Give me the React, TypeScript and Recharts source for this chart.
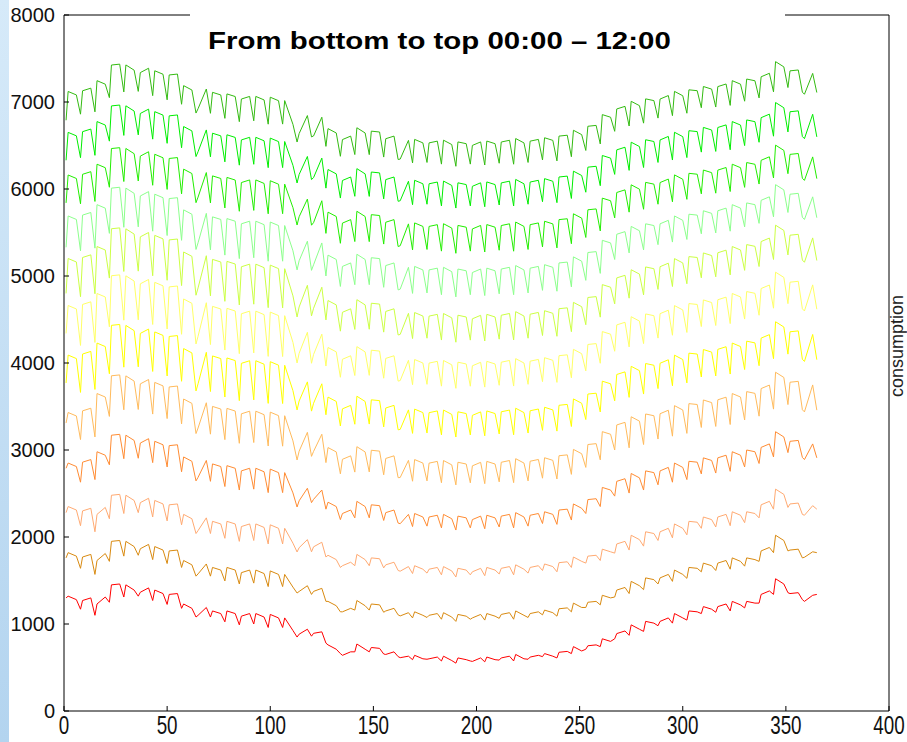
import React from 'react';
import { LineChart, Line, XAxis, YAxis } from 'recharts';

// day of year (Mon, Fri, Sun of each week)
const days = [1,
2,6,8, 9,13,15, 16,20,22, 23,27,29, 30,34,36, 37,41,43, 44,48,50, 51,55,57, 58,62,64, 65,69,71,
72,76,78, 79,83,85, 86,90,92, 93,97,99, 100,104,106, 107,111,113, 114,118,120, 121,125,127, 128,132,134,
135,139,141, 142,146,148, 149,153,155, 156,160,162, 163,167,169, 170,174,176, 177,181,183, 184,188,190,
191,195,197, 198,202,204, 205,209,211, 212,216,218, 219,223,225, 226,230,232, 233,237,239, 240,244,246,
247,251,253, 254,258,260, 261,265,267, 268,272,274, 275,279,281, 282,286,288, 289,293,295, 296,300,302,
303,307,309, 310,314,316, 317,321,323, 324,328,330, 331,335,337, 338,342,344, 345,349,351, 352,356,358,
359,363,365];

const h00 = [1300,
1320,1280,1170, 1270,1300,1100, 1230,1310,1250, 1450,1460,1310, 1450,1390,1320, 1365,1415,1270, 1390,1350,1225,
1340,1350,1180, 1230,1180,1080, 1100,1190,1080, 1150,1120,1025, 1150,1120,990, 1090,1120,1000, 1120,1080,960,
1110,1070,960, 1070,925,850, 883,940,860, 893,910,780, 760,710,660, 640,680,680, 770,710,680, 730,720,655,
650,680,625, 613,630,590, 640,600,595, 600,620,575, 630,580,550, 610,590,575, 570,610,565, 620,590,585,
610,630,575, 650,600,595, 620,640,625, 660,630,610, 675,685,660, 740,690,710, 750,760,740, 830,800,830,
890,920,870, 990,940,915, 1030,1010,980, 1030,1070,1010, 1120,1070,1045, 1150,1140,1120, 1200,1170,1135,
1200,1230,1150, 1260,1220,1185, 1260,1240,1240, 1340,1380,1340, 1520,1460,1360, 1350,1360,1280, 1260,1330,1340];

const h01 = [1760,
1820,1780,1640, 1770,1800,1570, 1730,1810,1720, 1950,1960,1780, 1950,1890,1790, 1865,1915,1740, 1890,1850,1695,
1840,1850,1650, 1730,1680,1550, 1576,1690,1550, 1650,1620,1495, 1650,1620,1460, 1590,1620,1470, 1620,1580,1430,
1610,1570,1430, 1570,1424,1356, 1374,1440,1340, 1375,1410,1260, 1260,1210,1140, 1140,1180,1160, 1270,1210,1160,
1230,1220,1135, 1150,1180,1105, 1093,1130,1070, 1140,1100,1075, 1100,1120,1055, 1130,1080,1030, 1110,1090,1055,
1070,1110,1045, 1120,1090,1065, 1110,1130,1055, 1150,1100,1075, 1120,1140,1105, 1160,1130,1090, 1175,1185,1140,
1240,1190,1190, 1250,1260,1220, 1330,1300,1310, 1390,1420,1350, 1490,1440,1395, 1530,1510,1460, 1530,1570,1490,
1620,1570,1525, 1650,1640,1600, 1700,1670,1615, 1700,1730,1630, 1760,1720,1665, 1760,1740,1720, 1840,1880,1820,
2020,1960,1840, 1850,1860,1760, 1767,1830,1820];

const h02 = [2280,
2350,2310,2130, 2300,2330,2060, 2260,2340,2210, 2480,2490,2270, 2480,2420,2280, 2395,2445,2230, 2420,2380,2185,
2370,2380,2140, 2260,2210,2040, 2074,2220,2040, 2180,2150,1985, 2180,2150,1950, 2120,2150,1960, 2150,2110,1920,
2140,2100,1920, 2100,1929,1828, 1877,1970,1830, 1887,1940,1770, 1790,1740,1650, 1670,1710,1670, 1800,1740,1670,
1760,1750,1645, 1680,1710,1615, 1607,1660,1580, 1670,1630,1585, 1630,1650,1565, 1660,1610,1540, 1640,1620,1565,
1600,1640,1555, 1650,1620,1575, 1640,1660,1565, 1680,1630,1585, 1650,1670,1615, 1690,1660,1600, 1705,1715,1650,
1770,1720,1700, 1780,1790,1730, 1860,1830,1815, 1920,1950,1850, 2020,1970,1895, 2060,2040,1960, 2060,2100,1990,
2150,2100,2025, 2180,2170,2100, 2230,2200,2115, 2230,2260,2130, 2290,2250,2165, 2290,2270,2220, 2370,2410,2320,
2550,2490,2340, 2380,2390,2260, 2250,2360,2320];

const h03 = [2790,
2850,2810,2630, 2860,2890,2660, 2980,2940,2830, 3170,3180,2900, 3170,3110,2905, 3080,3130,2855, 3100,3060,2805,
3050,3060,2750, 2920,2870,2645, 2686,2880,2640, 2840,2810,2580, 2820,2790,2540, 2760,2790,2550, 2790,2750,2510,
2780,2740,2510, 2740,2507,2345, 2416,2560,2395, 2433,2540,2320, 2400,2350,2200, 2270,2310,2220, 2410,2350,2220,
2370,2360,2190, 2280,2310,2160, 2153,2260,2120, 2270,2230,2125, 2230,2250,2105, 2260,2210,2080, 2240,2220,2105,
2200,2240,2095, 2250,2220,2115, 2240,2260,2105, 2280,2230,2125, 2250,2270,2155, 2290,2260,2145, 2310,2320,2195,
2380,2330,2270, 2430,2440,2350, 2570,2540,2470, 2640,2670,2505, 2730,2680,2540, 2760,2740,2600, 2760,2800,2630,
2850,2800,2660, 2870,2860,2725, 2910,2880,2735, 2910,2940,2755, 2980,2940,2805, 3000,2980,2845, 3030,3070,2920,
3210,3150,2970, 3100,3110,2915, 2890,3070,2910];

const h04 = [3310,
3431,3391,3120, 3450,3480,3150, 3649,3609,3386, 3853,3863,3462, 3852,3792,3466, 3760,3810,3413, 3777,3737,3361,
3725,3735,3300, 3586,3536,3189, 3253,3543,3182, 3501,3471,3119, 3478,3448,3077, 3416,3446,3086, 3446,3406,3046,
3435,3395,3044, 3394,3105,2885, 2986,3203,2927, 2984,3181,2855, 3028,2978,2726, 2893,2933,2746, 3038,2978,2748,
2997,2987,2715, 2903,2933,2682, 2684,2881,2641, 2890,2850,2645, 2849,2869,2624, 2879,2829,2599, 2859,2839,2623,
2818,2858,2613, 2869,2839,2634, 2859,2879,2625, 2900,2850,2645, 2871,2891,2676, 2911,2881,2667, 2934,2944,2720,
3007,2957,2800, 3063,3073,2887, 3211,3181,3000, 3288,3318,3025, 3382,3332,3063, 3414,3394,3126, 3417,3457,3159,
3510,3460,3191, 3533,3523,3259, 3575,3545,3271, 3577,3607,3293, 3649,3609,3345, 3671,3651,3389, 3706,3746,3470,
3894,3834,3522, 3779,3789,3463, 3438,3748,3458];

const h05 = [3770,
4091,4051,3662, 4103,4133,3696, 4229,4189,3876, 4433,4443,3952, 4432,4372,3956, 4340,4390,3903, 4357,4317,3851,
4305,4315,3790, 4166,4116,3679, 3761,4123,3672, 4081,4051,3609, 4058,4028,3567, 3996,4026,3576, 4026,3986,3536,
4015,3975,3534, 3974,3682,3460, 3563,3783,3447, 3537,3761,3405, 3608,3558,3276, 3473,3513,3296, 3618,3558,3298,
3577,3567,3265, 3483,3513,3232, 3237,3461,3191, 3470,3430,3195, 3429,3449,3174, 3459,3409,3149, 3439,3419,3173,
3398,3438,3163, 3449,3419,3184, 3439,3459,3175, 3480,3430,3195, 3451,3471,3226, 3491,3461,3217, 3514,3524,3270,
3587,3537,3350, 3643,3653,3437, 3791,3761,3565, 3868,3898,3605, 3962,3912,3643, 3994,3974,3706, 3997,4037,3739,
4090,4040,3771, 4113,4103,3839, 4155,4125,3851, 4157,4187,3873, 4229,4189,3925, 4251,4231,3969, 4286,4326,4050,
4474,4414,4102, 4359,4369,4043, 4018,4328,4038];

const h06 = [4340,
4661,4621,4202, 4673,4703,4236, 4799,4759,4416, 5003,5013,4492, 5002,4942,4496, 4910,4960,4443, 4927,4887,4391,
4875,4885,4330, 4736,4686,4219, 4307,4693,4212, 4651,4621,4149, 4628,4598,4107, 4566,4596,4116, 4596,4556,4076,
4585,4545,4074, 4544,4237,4000, 4112,4353,3997, 4098,4331,3965, 4178,4128,3836, 4043,4083,3856, 4188,4128,3858,
4147,4137,3825, 4053,4083,3792, 3798,4031,3751, 4040,4000,3755, 3999,4019,3734, 4029,3979,3709, 4009,3989,3733,
3968,4008,3723, 4019,3989,3744, 4009,4029,3735, 4050,4000,3755, 4021,4041,3786, 4061,4031,3777, 4084,4094,3830,
4157,4107,3910, 4213,4223,3997, 4361,4331,4135, 4438,4468,4185, 4532,4482,4223, 4564,4544,4286, 4567,4607,4319,
4660,4610,4351, 4683,4673,4419, 4725,4695,4431, 4727,4757,4453, 4799,4759,4505, 4821,4801,4549, 4856,4896,4630,
5044,4984,4682, 4929,4939,4623, 4598,4898,4618];

const h07 = [4800,
5201,5161,4762, 5213,5243,4796, 5339,5299,4976, 5543,5553,5052, 5542,5482,5056, 5450,5500,5003, 5467,5427,4951,
5415,5425,4890, 5276,5226,4779, 4863,5233,4772, 5191,5161,4709, 5168,5138,4667, 5106,5136,4676, 5136,5096,4636,
5125,5085,4634, 5084,4772,4529, 4644,4893,4542, 4629,4871,4495, 4718,4668,4366, 4583,4623,4386, 4728,4668,4388,
4687,4677,4355, 4593,4623,4322, 4329,4571,4281, 4580,4540,4285, 4539,4559,4264, 4569,4519,4239, 4549,4529,4263,
4508,4548,4253, 4559,4529,4274, 4549,4569,4265, 4590,4540,4285, 4561,4581,4316, 4601,4571,4307, 4624,4634,4360,
4697,4647,4440, 4753,4763,4527, 4901,4871,4680, 4978,5008,4745, 5072,5022,4783, 5104,5084,4846, 5107,5147,4879,
5200,5150,4911, 5223,5213,4979, 5265,5235,4991, 5267,5297,5013, 5339,5299,5065, 5361,5341,5109, 5396,5436,5190,
5584,5524,5242, 5469,5479,5183, 5158,5438,5178];

const h08 = [5330,
5690,5650,5290, 5700,5730,5320, 5820,5780,5490, 6010,6020,5560, 6010,5950,5565, 5920,5970,5515, 5940,5900,5465,
5890,5900,5410, 5760,5710,5305, 5382,5720,5300, 5680,5650,5240, 5660,5630,5200, 5600,5630,5210, 5630,5590,5170,
5620,5580,5170, 5580,5290,5070, 5175,5400,5065, 5129,5380,5000, 5240,5190,4880, 5110,5150,4900, 5250,5190,4900,
5210,5200,4870, 5120,5150,4840, 4849,5100,4800, 5110,5070,4805, 5070,5090,4785, 5100,5050,4760, 5080,5060,4785,
5040,5080,4775, 5090,5060,4795, 5080,5100,4785, 5120,5070,4805, 5090,5110,4835, 5130,5100,4825, 5150,5160,4875,
5220,5170,4950, 5270,5280,5030, 5410,5380,5190, 5480,5510,5265, 5570,5520,5300, 5600,5580,5360, 5600,5640,5390,
5690,5640,5420, 5710,5700,5485, 5750,5720,5495, 5750,5780,5515, 5820,5780,5565, 5840,5820,5605, 5870,5910,5680,
6050,5990,5730, 5940,5950,5675, 5650,5910,5670];

const h09 = [5840,
6161,6121,5830, 6169,6199,5857, 6285,6245,6020, 6465,6475,6086, 6466,6406,6092, 6378,6428,6043, 6399,6359,5995,
6351,6361,5944, 6228,6178,5843, 5907,6189,5840, 6151,6121,5782, 6133,6103,5744, 6074,6104,5754, 6104,6064,5715,
6095,6055,5716, 6056,5786,5586, 5681,5884,5584, 5614,5865,5490, 5734,5684,5376, 5608,5648,5396, 5744,5684,5395,
5705,5695,5367, 5618,5648,5339, 5348,5599,5300, 5610,5570,5305, 5570,5590,5286, 5601,5551,5261, 5581,5561,5286,
5541,5581,5276, 5591,5561,5296, 5580,5600,5285, 5620,5570,5305, 5590,5610,5334, 5629,5599,5323, 5648,5658,5371,
5715,5665,5443, 5761,5771,5518, 5895,5865,5668, 5960,5990,5734, 6048,5998,5767, 6076,6056,5825, 6074,6114,5853,
6162,6112,5881, 6180,6170,5944, 6218,6188,5952, 6217,6247,5971, 6285,6245,6019, 6304,6284,6057, 6330,6370,6127,
6504,6444,6176, 6398,6408,6123, 6099,6369,6119];

const h10 = [6330,
6651,6611,6360, 6659,6689,6387, 6775,6735,6550, 6955,6965,6616, 6956,6896,6622, 6868,6918,6573, 6889,6849,6525,
6841,6851,6474, 6718,6668,6373, 6429,6679,6370, 6641,6611,6312, 6623,6593,6274, 6564,6594,6284, 6594,6554,6245,
6585,6545,6246, 6546,6272,6069, 6167,6374,6109, 6131,6355,6010, 6224,6174,5896, 6098,6138,5916, 6234,6174,5915,
6195,6185,5887, 6108,6138,5859, 5865,6089,5820, 6100,6060,5825, 6060,6080,5806, 6091,6041,5781, 6071,6051,5806,
6031,6071,5796, 6081,6051,5816, 6070,6090,5805, 6110,6060,5825, 6080,6100,5854, 6119,6089,5843, 6138,6148,5891,
6205,6155,5963, 6251,6261,6038, 6385,6355,6168, 6450,6480,6214, 6538,6488,6247, 6566,6546,6305, 6564,6604,6333,
6652,6602,6361, 6670,6660,6424, 6708,6678,6432, 6707,6737,6451, 6775,6735,6499, 6794,6774,6537, 6820,6860,6607,
6994,6934,6656, 6888,6898,6603, 6579,6859,6599];

const h11 = [6790,
7121,7081,6860, 7129,7159,6887, 7245,7205,7050, 7425,7435,7116, 7426,7366,7122, 7338,7388,7073, 7359,7319,7025,
7311,7321,6974, 7188,7138,6873, 6923,7149,6870, 7111,7081,6812, 7093,7063,6774, 7034,7064,6784, 7064,7024,6745,
7055,7015,6746, 7016,6743,6540, 6637,6844,6599, 6610,6825,6490, 6694,6644,6376, 6568,6608,6396, 6704,6644,6395,
6665,6655,6367, 6578,6608,6339, 6344,6559,6300, 6570,6530,6305, 6530,6550,6286, 6561,6511,6261, 6541,6521,6286,
6501,6541,6276, 6551,6521,6296, 6540,6560,6285, 6580,6530,6305, 6550,6570,6334, 6589,6559,6323, 6608,6618,6371,
6675,6625,6443, 6721,6731,6518, 6855,6825,6663, 6920,6950,6724, 7008,6958,6757, 7036,7016,6815, 7034,7074,6843,
7122,7072,6871, 7140,7130,6934, 7178,7148,6942, 7177,7207,6961, 7245,7205,7009, 7264,7244,7047, 7290,7330,7117,
7464,7404,7166, 7358,7368,7113, 7089,7329,7109];

const seriesNames = ['00:00', '01:00', '02:00', '03:00', '04:00', '05:00', '06:00', '07:00', '08:00', '09:00', '10:00', '11:00'];
const seriesValues = [h00, h01, h02, h03, h04, h05, h06, h07, h08, h09, h10, h11];
const seriesColors = ['#ff0000', '#d98a10', '#ffaa72', '#ff8c33', '#ffbb5c', '#ffff00', '#ffff66', '#ccff44', '#8cff8c', '#22ee00', '#00ee00', '#33bb11'];

const xTicks = [0, 50, 100, 150, 200, 250, 300, 350, 400];
const yTicks = [0, 1000, 2000, 3000, 4000, 5000, 6000, 7000, 8000];
const titleText = 'From bottom to top 00:00 \u2013 12:00';
const rightLabel = 'consumption';

const rows = days.map((d, i) => {
  const r: Record<string, number> = { day: d };
  seriesValues.forEach((arr, j) => {
    r['s' + j] = arr[i];
  });
  return r;
});

const FONT = 'Liberation Sans, Arial, Helvetica, sans-serif';

const XTick = (props: any) => {
  const { x, y, payload } = props;
  return (
    <g transform={`translate(${x},${y})`}>
      <text
        x={0}
        y={0}
        dy="0.71em"
        textAnchor="middle"
        transform="scale(0.94 1.3)"
        fill="#111"
        fontSize={20}
        fontFamily={FONT}
      >
        {payload.value}
      </text>
    </g>
  );
};

export default function App() {
  return (
    <div style={{ position: 'absolute', left: 0, top: 0, width: 907, height: 742, overflow: 'hidden', background: '#fff' }}>
      <div style={{ position: 'absolute', left: 0, top: 0, width: 9, height: 742, background: 'linear-gradient(to bottom, #d6eaf9, #b3d4ef)' }} />
      <LineChart width={907} height={742} data={rows} margin={{ top: 14, right: 17, bottom: 0, left: 0 }}>
        <XAxis
          dataKey="day"
          type="number"
          domain={[0, 400]}
          ticks={xTicks}
          interval={0}
          allowDataOverflow
          height={31}
          tickSize={-5}
          tickMargin={10}
          axisLine={{ stroke: '#000' }}
          tickLine={{ stroke: '#000' }}
          tick={<XTick />}
        />
        <XAxis
          xAxisId="top"
          orientation="top"
          dataKey="day"
          type="number"
          domain={[0, 400]}
          ticks={xTicks}
          interval={0}
          allowDataOverflow
          height={1}
          tickSize={-5}
          tick={false}
          axisLine={{ stroke: '#000' }}
          tickLine={{ stroke: '#000' }}
        />
        <YAxis
          type="number"
          domain={[0, 8000]}
          ticks={yTicks}
          interval={0}
          allowDataOverflow
          width={64}
          tickSize={-5}
          tickMargin={14}
          axisLine={{ stroke: '#000' }}
          tickLine={{ stroke: '#000' }}
          tick={{ fill: '#111', fontSize: 20, fontFamily: FONT }}
        />
        <YAxis
          yAxisId="right"
          orientation="right"
          type="number"
          domain={[0, 8000]}
          ticks={yTicks}
          interval={0}
          allowDataOverflow
          width={1}
          tickSize={-5}
          tick={false}
          axisLine={{ stroke: '#000' }}
          tickLine={{ stroke: '#000' }}
        />
        <Line
          xAxisId="top"
          yAxisId="right"
          dataKey="s0"
          stroke="none"
          strokeWidth={0}
          dot={false}
          activeDot={false}
          legendType="none"
          isAnimationActive={false}
        />
        {seriesNames.map((name, j) => (
          <Line
            key={name}
            name={name}
            dataKey={'s' + j}
            type="linear"
            stroke={seriesColors[j]}
            strokeWidth={1}
            dot={false}
            activeDot={false}
            isAnimationActive={false}
          />
        ))}
      </LineChart>
      <svg width={907} height={742} style={{ position: 'absolute', left: 0, top: 0, pointerEvents: 'none' }}>
        <rect x={190} y={0} width={595} height={50} fill="#fff" />
        <text transform="translate(208 49) scale(1.28 1)" fontFamily={FONT} fontWeight="bold" fontSize={23} fill="#000">
          {titleText}
        </text>
        <text transform="translate(903 346) rotate(-90)" textAnchor="middle" fontFamily={FONT} fontSize={18} fill="#222">
          {rightLabel}
        </text>
      </svg>
    </div>
  );
}
